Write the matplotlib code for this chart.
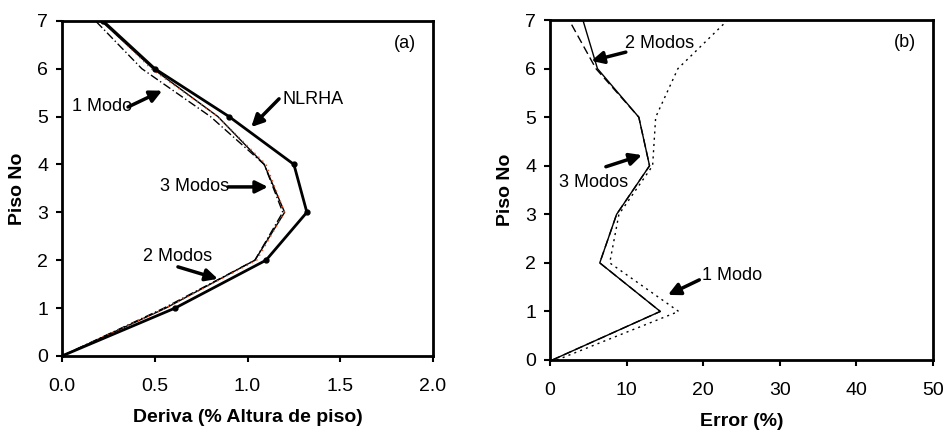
import matplotlib
matplotlib.use("Agg")
import matplotlib.pyplot as plt
import numpy as np

plt.rcParams['font.family'] = ['Liberation Sans', 'DejaVu Sans']

pisos = [0, 1, 2, 3, 4, 5, 6, 7]

# deriva de piso (% altura)
deriva_nlrha = [0.0, 0.61, 1.10, 1.32, 1.25, 0.90, 0.50, 0.22]
deriva_1modo = [0.0, 0.55, 1.04, 1.19, 1.09, 0.80, 0.43, 0.18]
deriva_2modos = [0.0, 0.56, 1.05, 1.20, 1.10, 0.84, 0.48, 0.22]
deriva_3modos = [0.0, 0.56, 1.04, 1.20, 1.09, 0.84, 0.49, 0.21]

# error respecto a NLRHA (%)
error_1modo = [0.9, 16.8, 7.8, 9.0, 13.4, 13.8, 16.7, 23.2]
error_2modos = [0.3, 14.4, 6.5, 8.7, 13.0, 11.6, 6.0, 2.5]
error_3modos = [0.3, 14.4, 6.5, 8.7, 13.0, 11.6, 6.2, 4.3]

fig = plt.figure(figsize=(9.44, 4.33), dpi=100)
ax1 = fig.add_axes([0.0657, 0.178, 0.393, 0.774])
ax2 = fig.add_axes([0.5826, 0.1686, 0.4057, 0.785])

arrow = dict(arrowstyle='-|>', color='black', lw=2.5, mutation_scale=18,
             shrinkA=0, shrinkB=0)
fs = 13
fs_lab = 14


def flecha(ax, cabeza, cola):
    ax.annotate('', xy=cabeza, xytext=cola, arrowprops=arrow)


# ---- (a) deriva ----
ax1.plot(deriva_1modo, pisos, color='black', lw=1, ls=(0, (6, 2, 1, 2)))
ax1.plot(deriva_3modos, pisos, color='black', lw=1)
ax1.plot(deriva_2modos, pisos, color='#e8481c', lw=1, ls=(0, (1, 3)))
ax1.plot(deriva_nlrha, pisos, color='black', lw=2, marker='o', ms=3.5)

ax1.set_xlim(0, 2.0)
ax1.set_ylim(0, 7)
ax1.set_xticks(np.arange(0, 2.01, 0.5))
ax1.set_xticklabels(['0.0', '0.5', '1.0', '1.5', '2.0'])
ax1.set_xlabel('Deriva (% Altura de piso)', fontsize=fs_lab, fontweight='bold', labelpad=10)

ax1.text(1.85, 6.52, '(a)', fontsize=fs, ha='center', va='center')
ax1.text(1.19, 5.35, 'NLRHA', fontsize=fs, ha='left', va='center')
flecha(ax1, (1.02, 4.78), (1.17, 5.37))
ax1.text(0.055, 5.2, '1 Modo', fontsize=fs, ha='left', va='center')
flecha(ax1, (0.54, 5.54), (0.356, 5.2))
ax1.text(0.53, 3.53, '3 Modos', fontsize=fs, ha='left', va='center')
flecha(ax1, (1.11, 3.53), (0.895, 3.53))
ax1.text(0.435, 2.07, '2 Modos', fontsize=fs, ha='left', va='center')
flecha(ax1, (0.84, 1.61), (0.625, 1.86))

# ---- (b) error ----
ax2.plot(error_1modo, pisos, color='black', lw=1, ls=(0, (1.5, 3)))
ax2.plot(error_2modos, pisos, color='black', lw=1, ls=(0, (6, 3)))
ax2.plot(error_3modos, pisos, color='black', lw=1)

ax2.set_xlim(0, 50)
ax2.set_ylim(0, 7)
ax2.set_xticks(np.arange(0, 51, 10))
ax2.set_xlabel('Error (%)', fontsize=fs_lab, fontweight='bold', labelpad=10)

ax2.text(46.3, 6.53, '(b)', fontsize=fs, ha='center', va='center')
ax2.text(9.8, 6.52, '2 Modos', fontsize=fs, ha='left', va='center')
flecha(ax2, (5.4, 6.16), (9.9, 6.34))
ax2.text(1.2, 3.65, '3 Modos', fontsize=fs, ha='left', va='center')
flecha(ax2, (12.0, 4.22), (7.3, 3.98))
ax2.text(19.8, 1.73, '1 Modo', fontsize=fs, ha='left', va='center')
flecha(ax2, (15.4, 1.34), (19.5, 1.65))

for ax in (ax1, ax2):
    ax.set_yticks(range(0, 8))
    ax.set_ylabel('Piso No', fontsize=fs_lab, fontweight='bold', labelpad=8)
    ax.tick_params(direction='out', length=4, width=1.5, labelsize=14, pad=6)
    ax.tick_params(axis='x', pad=12)
    for s in ax.spines.values():
        s.set_linewidth(2)

fig.savefig('out.png', dpi=100)
